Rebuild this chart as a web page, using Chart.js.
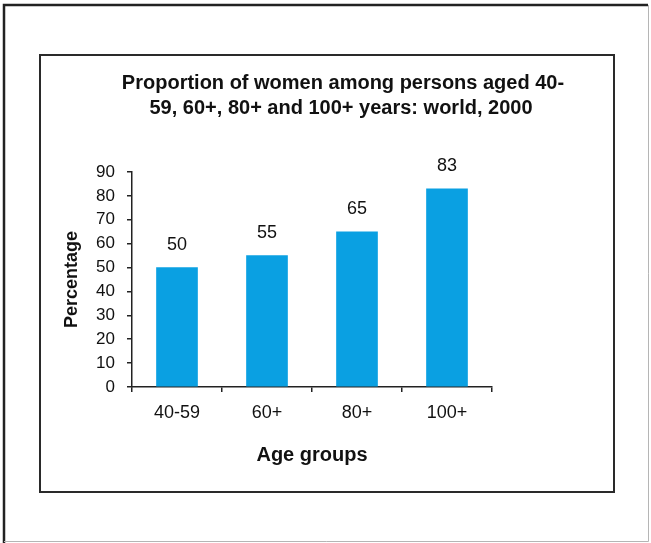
<!DOCTYPE html>
<html>
<head>
<meta charset="utf-8">
<script src="https://cdn.jsdelivr.net/npm/chart.js@4.4.0/dist/chart.umd.min.js"></script>
<style>
  html, body { margin: 0; padding: 0; background: #fff; }
  #wrap { width: 651px; height: 543px; }
</style>
</head>
<body>
<div id="wrap"><canvas id="c" width="651" height="543"></canvas></div>
<script>
// Age groups and the share of women in each (per cent)
const categories = ['40-59', '60+', '80+', '100+'];
const womenShare = [50, 55, 65, 83];
const yMin = 0;
const yMax = 90;
const yStep = 10;
const titleLines = [
  'Proportion of women among persons aged 40-',
  '59, 60+, 80+ and 100+ years: world, 2000'
];
const yAxisTitle = 'Percentage';
const xAxisTitle = 'Age groups';

const FONT = '"Liberation Sans", Arial, Helvetica, sans-serif';
const INK = '#111';
const BAR = '#0aa0e2';

Chart.defaults.font.family = FONT;
Chart.defaults.color = INK;

// Page frame, inner panel and the two-line heading
const framePlugin = {
  id: 'frame',
  beforeDraw(chart) {
    const ctx = chart.ctx;
    ctx.save();
    ctx.fillStyle = '#fff';
    ctx.fillRect(0, 0, chart.width, chart.height);
    // outer frame: dark on left/top, light on right/bottom
    ctx.lineWidth = 2.5;
    ctx.strokeStyle = '#222';
    ctx.beginPath();
    ctx.moveTo(4, 543); ctx.lineTo(4, 5); ctx.lineTo(648, 5);
    ctx.stroke();
    ctx.lineWidth = 1;
    ctx.strokeStyle = '#b5b5b5';
    ctx.beginPath();
    ctx.moveTo(648.5, 5); ctx.lineTo(648.5, 541.5); ctx.lineTo(4, 541.5);
    ctx.stroke();
    // inner panel
    ctx.lineWidth = 2;
    ctx.strokeStyle = '#2a2a2a';
    ctx.strokeRect(40, 55, 574, 437);
    // heading
    ctx.fillStyle = INK;
    ctx.font = 'bold 20px ' + FONT;
    ctx.textAlign = 'center';
    ctx.textBaseline = 'middle';
    ctx.fillText(titleLines[0], 343, 83);
    ctx.fillText(titleLines[1], 341, 108);
    ctx.restore();
  }
};

// Value printed above each bar
const valueLabels = {
  id: 'valueLabels',
  afterDatasetsDraw(chart) {
    const ctx = chart.ctx;
    const meta = chart.getDatasetMeta(0);
    ctx.save();
    ctx.fillStyle = INK;
    ctx.font = '18px ' + FONT;
    ctx.textAlign = 'center';
    ctx.textBaseline = 'middle';
    meta.data.forEach((bar, i) => {
      ctx.fillText(String(chart.data.datasets[0].data[i]), bar.x, bar.y - 23);
    });
    ctx.restore();
  }
};

new Chart(document.getElementById('c'), {
  type: 'bar',
  data: {
    labels: categories,
    datasets: [{
      data: womenShare,
      backgroundColor: BAR,
      borderWidth: 0,
      barThickness: 41
    }]
  },
  options: {
    responsive: false,
    animation: false,
    devicePixelRatio: 1,
    layout: { padding: { left: 40, right: 159, top: 172, bottom: 51 } },
    plugins: {
      legend: { display: false },
      title: { display: false },
      tooltip: { enabled: false }
    },
    scales: {
      x: {
        afterFit(s) { s.height = 105; },
        grid: {
          offset: true,
          drawOnChartArea: false,
          drawTicks: true,
          tickLength: 5,
          color: '#222',
          lineWidth: 1.5
        },
        border: { display: true, color: '#222', width: 1.5 },
        ticks: { font: { size: 18 }, color: INK, padding: 10, maxRotation: 0 },
        title: {
          display: true,
          text: xAxisTitle,
          font: { size: 20, weight: 'bold' },
          color: INK,
          padding: { top: 0, bottom: 25 }
        }
      },
      y: {
        min: yMin,
        max: yMax,
        afterFit(s) { s.width = 92; },
        grid: {
          drawOnChartArea: false,
          drawTicks: true,
          tickLength: 5,
          color: '#222',
          lineWidth: 1.5
        },
        border: { display: true, color: '#222', width: 1.5 },
        ticks: { stepSize: yStep, font: { size: 17 }, color: INK, padding: 12 },
        title: {
          display: true,
          text: yAxisTitle,
          font: { size: 18, weight: 'bold' },
          color: INK,
          padding: { top: 21, bottom: 0 }
        }
      }
    }
  },
  plugins: [framePlugin, valueLabels]
});
</script>
</body>
</html>
